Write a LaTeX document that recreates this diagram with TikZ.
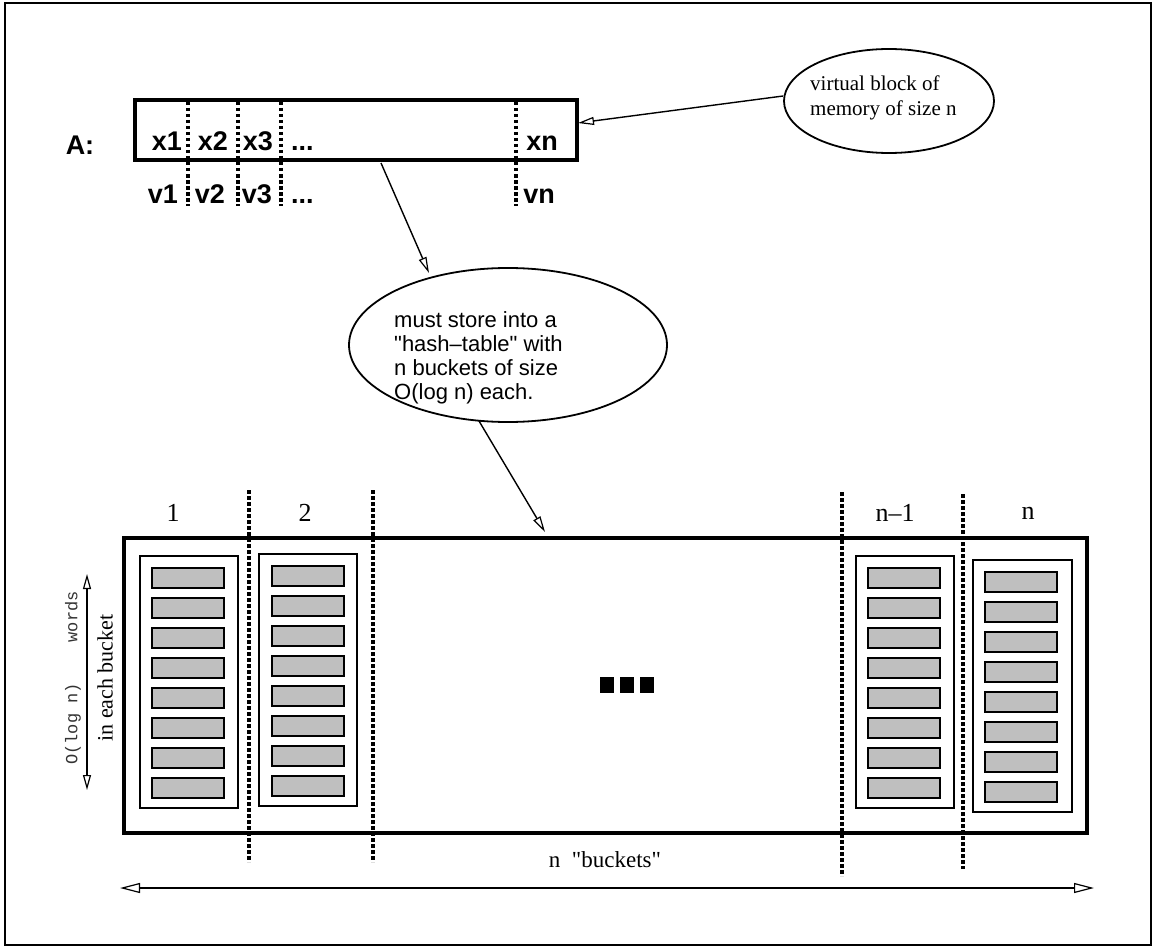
\documentclass[tikz,border=0pt]{standalone}
\usepackage{fontspec}
\setmainfont{Liberation Serif}
\setsansfont{Liberation Sans}
\setmonofont{Liberation Mono}
\usetikzlibrary{arrows.meta,shapes.geometric}
\begin{document}
\begin{tikzpicture}[x=1pt,y=-1pt,
  conn/.style={line width=1.4pt,-{Triangle[open,length=16pt,width=8pt,line width=1.2pt]}},
  dblarr/.style={line width=1.6pt,{Triangle[open,length=15pt,width=8pt,line width=1.2pt]}-{Triangle[open,length=15pt,width=8pt,line width=1.2pt]}},
  dotln/.style={line width=3.5pt,dash pattern=on 3.5pt off 2.5pt},
  slot/.style={draw,line width=1.5pt,fill=black!25},
  bucketbox/.style={draw,line width=1.3pt},
  boldlbl/.style={font=\sffamily\bfseries\fontsize{27}{27}\selectfont,inner sep=0pt,anchor=base},
  numlbl/.style={font=\fontsize{26}{26}\selectfont,inner sep=0pt},
  bubble/.style={draw,ellipse,line width=1.8pt,inner sep=0pt}
]
\useasboundingbox (0,0) rectangle (1154,947);
\draw[line width=2pt] (5,3) rectangle (1151,945);

% array A
\node[boldlbl] (lA) at (80,154) {A:};
\node[draw,line width=4pt,minimum width=442pt,minimum height=60pt,inner sep=0pt] (arr) at (356,130) {};
\foreach \x in {188,238,281,516} { \draw[dotln] (\x,102) -- (\x,206); }
\node[boldlbl] (x1) at (167,150) {x1};
\node[boldlbl] (x2) at (213,150) {x2};
\node[boldlbl] (x3) at (258,150) {x3};
\node[boldlbl,anchor=base west] (xd) at (291,150) {...};
\node[boldlbl] (xn) at (542,150) {xn};
\node[boldlbl] (v1) at (163,204) {v1};
\node[boldlbl] (v2) at (210,204) {v2};
\node[boldlbl] (v3) at (257,204) {v3};
\node[boldlbl,anchor=base west] (vd) at (291,204) {...};
\node[boldlbl] (vn) at (539,204) {vn};

% top right bubble
\node[bubble,minimum width=210pt,minimum height=104pt] (tre) at (889,101) {};
\node[align=left,anchor=north west,font=\fontsize{21}{25}\selectfont,inner sep=0pt] (tret) at (810,76) {virtual block of\\memory of size n};
\coordinate (t1) at (578,123);
\draw[conn] (tre.west) ++(0,-5) -- (t1);

% middle bubble
\node[bubble,minimum width=318pt,minimum height=154pt] (mid) at (508,345) {};
\node[align=left,anchor=north west,font=\sffamily\fontsize{22}{24}\selectfont,inner sep=0pt] (midt) at (394,311) {must store into a\\\textquotedbl hash\textendash table\textquotedbl{} with\\n buckets of size\\O(log n) each.};
\coordinate (a1) at (381,163);
\coordinate (a2) at (429,273);
\draw[conn] (a1) -- (a2);
\coordinate (b1) at (479,421);
\coordinate (b2) at (545,532);
\draw[conn] (b1) -- (b2);

% big table
\node[draw,line width=4pt,minimum width=963pt,minimum height=295pt,inner sep=0pt] (tab) at (605.5,685) {};
\draw[dotln] (249,490) -- (249,862);
\draw[dotln] (373,490) -- (373,862);
\draw[dotln] (842,492) -- (842,876);
\draw[dotln] (963,494) -- (963,869);
\node[numlbl] (n1) at (173,513) {1};
\node[numlbl] (n2) at (305,513) {2};
\node[numlbl] (nm) at (895,513) {n\textendash 1};
\node[numlbl] (nn) at (1028,513) {n};

\draw[bucketbox] (140,556) rectangle (238,808);
\draw[bucketbox] (259,554) rectangle (357,806);
\draw[bucketbox] (856,556) rectangle (954,808);
\draw[bucketbox] (973,560) rectangle (1072,812);
\foreach \bx/\by in {152/568,272/566,868/568,985/572} {
  \foreach \i in {0,...,7} { \draw[slot] (\bx,\by+30*\i) rectangle ++(72,20); }
}
\fill (600,677) rectangle (614,693);
\fill (620,677) rectangle (634,693);
\fill (640,677) rectangle (654,693);

% left vertical arrow and labels
\coordinate (la1) at (87,790);
\coordinate (la2) at (87,574);
\draw[dblarr] (la1) -- (la2);
\node[rotate=90,font=\ttfamily\fontsize{17}{17}\selectfont,text=black!80,inner sep=0pt] (ow) at (73,678) {O(log n)\hspace{2.4em}words};
\node[rotate=90,font=\fontsize{22}{22}\selectfont,inner sep=0pt] (ieb) at (105,678) {in each bucket};

% bottom arrow
\node[font=\fontsize{23}{23}\selectfont,inner sep=0pt] (nb) at (605,860) {n\ \ \textquotedbl buckets\textquotedbl};
\coordinate (ba1) at (120,888);
\coordinate (ba2) at (1094,888);
\draw[line width=1.6pt,{Triangle[open,length=20pt,width=10pt,line width=1.2pt]}-{Triangle[open,length=20pt,width=10pt,line width=1.2pt]}] (ba1) -- (ba2);
\end{tikzpicture}
\end{document}
